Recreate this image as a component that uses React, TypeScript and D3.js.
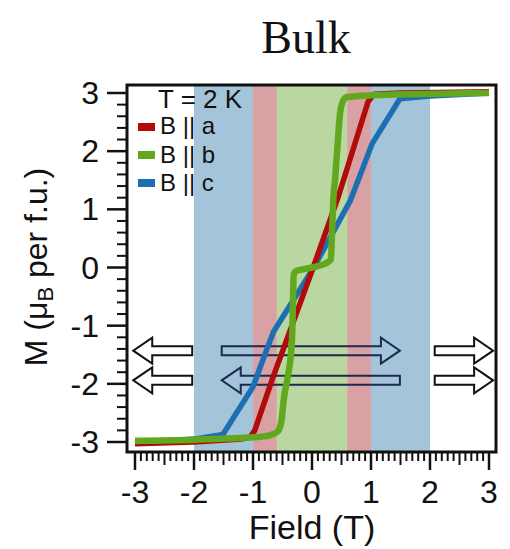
import React from "react";
import * as d3 from "d3";

// ---- data ----
const xTicks = [-3, -2, -1, 0, 1, 2, 3];
const yTicks = [-3, -2, -1, 0, 1, 2, 3];

const fieldA = [-3, -2, -1.2, -1.05, -0.97, -0.68, 0.02, 0.44, 0.95, 1.05, 1.5, 3];
const magA = [-3.03, -3.0, -2.95, -2.92, -2.8, -1.94, 0, 1.2, 2.85, 2.98, 3.0, 3.02];

const fieldB = [-3, -2, -1, -0.7, -0.58, -0.52, -0.47, -0.42, -0.34, -0.32, -0.31, -0.27, 0, 0.25, 0.32, 0.34, 0.36, 0.39, 0.44, 0.47, 0.52, 0.59, 1, 3];
const magB = [-2.98, -2.96, -2.92, -2.88, -2.82, -2.65, -2.2, -1.94, -1.25, -0.5, -0.12, -0.06, 0, 0.08, 0.14, 0.6, 1.15, 1.5, 2.2, 2.6, 2.85, 2.93, 2.96, 3.0];

const fieldC = [-3, -2, -1.51, -1.0, -0.8, -0.65, 0.03, 0.65, 0.82, 1.02, 1.49, 2, 3];
const magC = [-3.02, -2.95, -2.87, -2.05, -1.5, -1.1, 0, 1.15, 1.6, 2.13, 2.9, 2.95, 3.0];

const seriesNames = ["B || a", "B || b", "B || c"];
const seriesColors = ["#b00c0c", "#62a81e", "#1c6fb2"];

// background regions (field units)
const bandRanges = [
  [-2, 2],
  [-1, 1],
  [-0.6, 0.6],
];
const bandColors = ["#a4c5d9", "#d9a1a4", "#bbd7a1"];

// arrows: tail field, tip field, M level, outlined style
const arrowTail = [-2.03, -2.03, -1.53, 1.49, 2.08, 2.08];
const arrowTip = [-3.03, -3.03, 1.49, -1.53, 3.07, 3.07];
const arrowLevel = [-1.43, -1.94, -1.43, -1.94, -1.43, -1.94];
const arrowOuter = [true, true, false, false, true, true];

export default function App() {
  const W = 510;
  const H = 549;
  const x = d3.scaleLinear().domain([-3, 3]).range([135, 489]);
  const y = d3.scaleLinear().domain([-3, 3]).range([442, 93]);

  const fL = 127, fR = 496, fT = 85, fB = 452;

  const lineLinear = d3
    .line<[number, number]>()
    .x((d) => x(d[0]))
    .y((d) => y(d[1]))
    .curve(d3.curveLinear);
  const lineSmooth = d3
    .line<[number, number]>()
    .x((d) => x(d[0]))
    .y((d) => y(d[1]))
    .curve(d3.curveMonotoneX);

  const series = [
    { f: fieldC, m: magC, c: seriesColors[2], w: 5.5, gen: lineLinear },
    { f: fieldA, m: magA, c: seriesColors[0], w: 5.5, gen: lineLinear },
    { f: fieldB, m: magB, c: seriesColors[1], w: 6.5, gen: lineSmooth },
  ];

  const xMinor = d3.range(-30, 31).map((i) => i / 10);
  const yMinor = d3.range(-15, 16).map((i) => i / 5);

  const arrowPath = (tail: number, tip: number, lvl: number) => {
    const xt = x(tail);
    const xp = x(tip);
    const yc = y(lvl);
    const dir = xp > xt ? 1 : -1;
    const headLen = 19;
    const headH = 13;
    const shaftH = 4.5;
    const xb = xp - dir * headLen;
    return `M${xt},${yc - shaftH} L${xb},${yc - shaftH} L${xb},${yc - headH} L${xp},${yc} L${xb},${yc + headH} L${xb},${yc + shaftH} L${xt},${yc + shaftH} Z`;
  };

  const sans = "'Liberation Sans', Arial, sans-serif";

  return (
    <div style={{ position: "absolute", left: 0, top: 0 }}>
      <svg width={W} height={H} style={{ display: "block", background: "#fff" }}>
        {/* title */}
        <text x={306} y={53} textAnchor="middle" fontFamily="'Liberation Serif', 'DejaVu Serif', serif" fontSize={46} fill="#111">
          Bulk
        </text>

        {/* bands */}
        {bandRanges.map((r, i) => (
          <rect key={i} x={x(r[0])} y={fT} width={x(r[1]) - x(r[0])} height={fB - fT} fill={bandColors[i]} />
        ))}

        {/* arrows */}
        {arrowTail.map((t, i) => (
          <path
            key={i}
            d={arrowPath(t, arrowTip[i], arrowLevel[i])}
            fill={arrowOuter[i] ? "#fff" : "none"}
            stroke={arrowOuter[i] ? "#111" : "#1b2a50"}
            strokeWidth={2}
            strokeLinejoin="miter"
          />
        ))}

        {/* curves */}
        {series.map((s, i) => (
          <path
            key={i}
            d={s.gen(s.f.map((f, j) => [f, s.m[j]] as [number, number])) || ""}
            fill="none"
            stroke={s.c}
            strokeWidth={s.w}
            strokeLinejoin="round"
            strokeLinecap="butt"
          />
        ))}

        {/* legend */}
        <text x={158} y={108} fontFamily={sans} fontSize={26} fill="#111">
          T = 2 K
        </text>
        {seriesNames.map((n, i) => (
          <g key={n}>
            <rect x={138} y={123 + i * 28} width={17} height={8} fill={seriesColors[i]} />
            <text x={160} y={134 + i * 28.5} fontFamily={sans} fontSize={24} fill="#111">
              {n}
            </text>
          </g>
        ))}

        {/* frame */}
        <rect x={fL} y={fT} width={fR - fL} height={fB - fT} fill="none" stroke="#111" strokeWidth={3} />

        {/* x ticks */}
        {xMinor.map((v, i) => {
          const isMajor = Math.abs(v - Math.round(v)) < 1e-6;
          const isHalf = !isMajor && Math.abs(v * 2 - Math.round(v * 2)) < 1e-6;
          const len = isMajor ? 18 : isHalf ? 13 : 9;
          return <line key={i} x1={x(v)} x2={x(v)} y1={fB} y2={fB + len} stroke="#111" strokeWidth={isMajor ? 2.5 : 2} />;
        })}
        {xTicks.map((v) => (
          <text key={v} x={x(v)} y={503} textAnchor="middle" fontFamily={sans} fontSize={32} fill="#111">
            {v}
          </text>
        ))}
        <text x={312} y={539} textAnchor="middle" fontFamily={sans} fontSize={34} fill="#111">
          Field (T)
        </text>

        {/* y ticks */}
        {yMinor.map((v, i) => {
          const isMajor = Math.abs(v - Math.round(v)) < 1e-6;
          const len = isMajor ? 20 : 10;
          return <line key={i} x1={fL - len} x2={fL} y1={y(v)} y2={y(v)} stroke="#111" strokeWidth={isMajor ? 2.5 : 2} />;
        })}
        {yTicks.map((v) => (
          <text key={v} x={99} y={y(v) + 11} textAnchor="end" fontFamily={sans} fontSize={32} fill="#111">
            {v}
          </text>
        ))}
        <text
          transform={`translate(47,267) rotate(-90)`}
          textAnchor="middle"
          fontFamily={sans}
          fontSize={32}
          fill="#111"
        >
          M (μ
          <tspan fontSize={22} dy={6}>B</tspan>
          <tspan dy={-6}> per f.u.)</tspan>
        </text>
      </svg>
    </div>
  );
}
